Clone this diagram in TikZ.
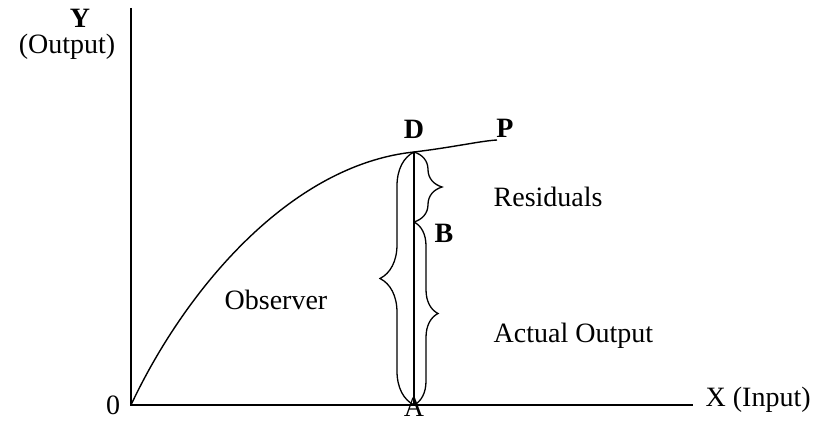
\documentclass[tikz,border=0pt]{standalone}
\usepackage{fontspec}
\setmainfont{Liberation Serif}
\usetikzlibrary{positioning, decorations.pathreplacing}

\tikzset{
  curlybrace/.style={decorate, decoration={brace, amplitude=#1}, line width=1.3pt},
  axislabel/.style={font=\fontsize{28}{34}\selectfont, inner sep=0pt},
  pointlabel/.style={font=\fontsize{28}{34}\selectfont\bfseries, inner sep=0pt}
}

\begin{document}
\begin{tikzpicture}[x=1pt, y=-1pt, line width=1.4pt]

\useasboundingbox (0,0) rectangle (819,428);

% axes
\coordinate (origin) at (131,405);
\coordinate (ytop) at (131,8);
\coordinate (xend) at (693,405);
\draw (ytop) -- (origin) -- (xend);

% points on the curve
\coordinate (pointD) at (414,152);
\coordinate (pointA) at (414,405);
\coordinate (pointB) at (414,222);
\coordinate (pointP) at (497,140);

% production curve
\draw (origin) .. controls (185,290) and (290,165) .. (pointD)
  .. controls (455,147) and (480,141) .. (pointP);

\draw (pointD) -- (pointA);

% braces
\draw[curlybrace=34pt] (pointA) -- (pointD);
\draw[curlybrace=28pt] (pointD) -- (pointB);
\draw[curlybrace=24pt] (pointB) -- (pointA);

% labels
\node[pointlabel] (labD) at (414,129) {D};
\node[pointlabel] (labP) at (505,128) {P};
\node[pointlabel] (labB) at (444,233) {B};
\node[axislabel] (labA) at (414,407) {A};
\node[axislabel] (zero) at (113,405) {0};

\node[pointlabel, anchor=base] (ylab) at (80,28) {Y};
\node[axislabel, anchor=base] (ylabtext) at (67,54) {(Output)};
\node[axislabel, anchor=west] (xlab) at (705,400) {X (Input)};

\node[axislabel] (observer) at (276,300) {Observer};
\node[axislabel, anchor=west] (residuals) at (493,197) {Residuals};
\node[axislabel, anchor=west] (actual) at (493,336) {Actual Output};

\end{tikzpicture}
\end{document}
